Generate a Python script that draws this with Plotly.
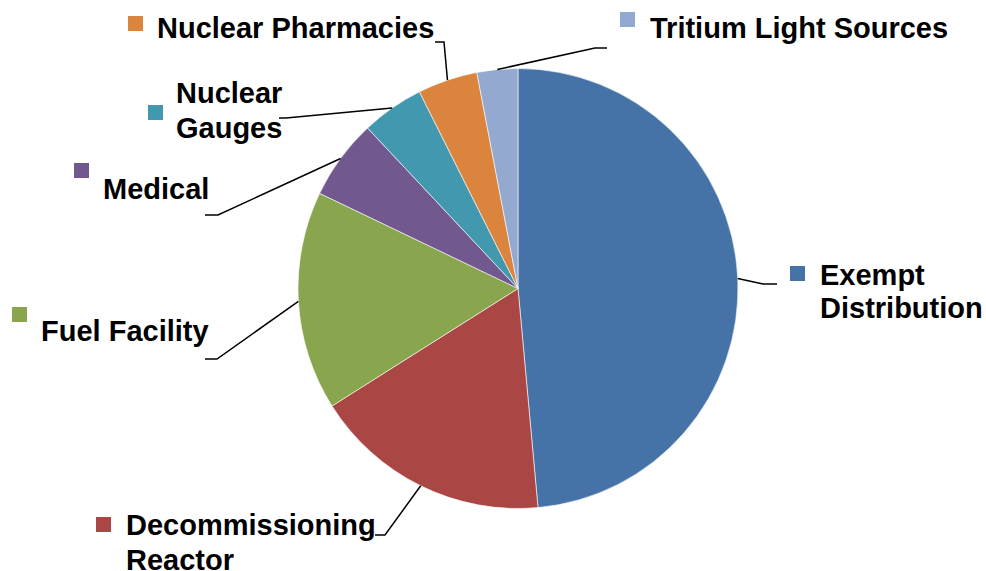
import math
import plotly.graph_objects as go

# ---- data ----
categories = ["Exempt Distribution", "Decommissioning Reactor", "Fuel Facility",
              "Medical", "Nuclear Gauges", "Nuclear Pharmacies", "Tritium Light Sources"]
values = [48.6, 17.5, 16.1, 5.9, 4.6, 4.4, 3.0]
colors = ["#4572A7", "#AA4643", "#89A54E", "#71588F", "#4198AF", "#DB843D", "#93A9CF"]
label_lines = [["Exempt", "Distribution"], ["Decommissioning", "Reactor"], ["Fuel Facility"],
               ["Medical"], ["Nuclear", "Gauges"], ["Nuclear Pharmacies"], ["Tritium Light Sources"]]

# ---- layout (page pixels) ----
W, H = 986, 571
CX, CY, R = 518, 288.5, 220
FONT = dict(family="Liberation Sans, Arial, sans-serif", size=29, color="#000000")

# label placement: text left x, caps-centre y of first line, line gap, key square (x,y), leader elbow, leader end
label_pos = [
    dict(tx=820, ty=275, gap=32.5, sq=(790, 266), elbow=(763, 284), end=(777, 284)),
    dict(tx=126, ty=525, gap=34.5, sq=(96, 517), elbow=(385, 535), end=(375, 535)),
    dict(tx=41, ty=331, gap=32, sq=(12, 307), elbow=(217, 359), end=(205, 359)),
    dict(tx=103, ty=188.5, gap=32, sq=(74, 163), elbow=(218, 215), end=(205, 215)),
    dict(tx=176, ty=93, gap=35, sq=(148, 105), elbow=(286, 118), end=(279, 118)),
    dict(tx=157, ty=27.5, gap=32, sq=(128, 16), elbow=(444, 42), end=(435, 42)),
    dict(tx=650, ty=28, gap=32, sq=(620, 12), elbow=(595, 48), end=(607, 48)),
]

def px(x):
    return x / W

def py(y):
    return 1 - y / H

fig = go.Figure(go.Pie(
    labels=categories, values=values, sort=False, direction="clockwise", rotation=0,
    marker=dict(colors=colors, line=dict(color="white", width=0.6)),
    textinfo="none", hoverinfo="label+percent", showlegend=False,
    domain=dict(x=[px(CX - R), px(CX + R)], y=[py(CY + R), py(CY - R)]),
))

total = sum(values)
cum = 0.0
shapes, annotations = [], []
for v, col, lines, pos in zip(values, colors, label_lines, label_pos):
    mid = (cum + v / 2) / total * 2 * math.pi
    cum += v
    sx = CX + R * math.sin(mid)
    sy = CY - R * math.cos(mid)
    ex, ey = pos["elbow"]
    fx, fy = pos["end"]
    shapes.append(dict(type="path", xref="paper", yref="paper",
                       path=f"M {px(sx)} {py(sy)} L {px(ex)} {py(ey)} L {px(fx)} {py(fy)}",
                       line=dict(color="black", width=1.5)))
    qx, qy = pos["sq"]
    shapes.append(dict(type="rect", xref="paper", yref="paper",
                       x0=px(qx), x1=px(qx + 15), y0=py(qy), y1=py(qy + 15),
                       fillcolor=col, line=dict(width=0)))
    for i, t in enumerate(lines):
        annotations.append(dict(text=f"<b>{t}</b>", xref="paper", yref="paper",
                                x=px(pos["tx"] - 1), y=py(pos["ty"] + i * pos["gap"]),
                                xanchor="left", yanchor="middle", showarrow=False,
                                font=FONT, borderpad=0))

fig.update_layout(width=W, height=H, margin=dict(l=0, r=0, t=0, b=0),
                  paper_bgcolor="white", plot_bgcolor="white",
                  shapes=shapes, annotations=annotations)

fig.write_html("out.html", config={"displayModeBar": False},
               post_script="document.body.style.margin='0';"
                           "document.documentElement.style.overflow='hidden';")
